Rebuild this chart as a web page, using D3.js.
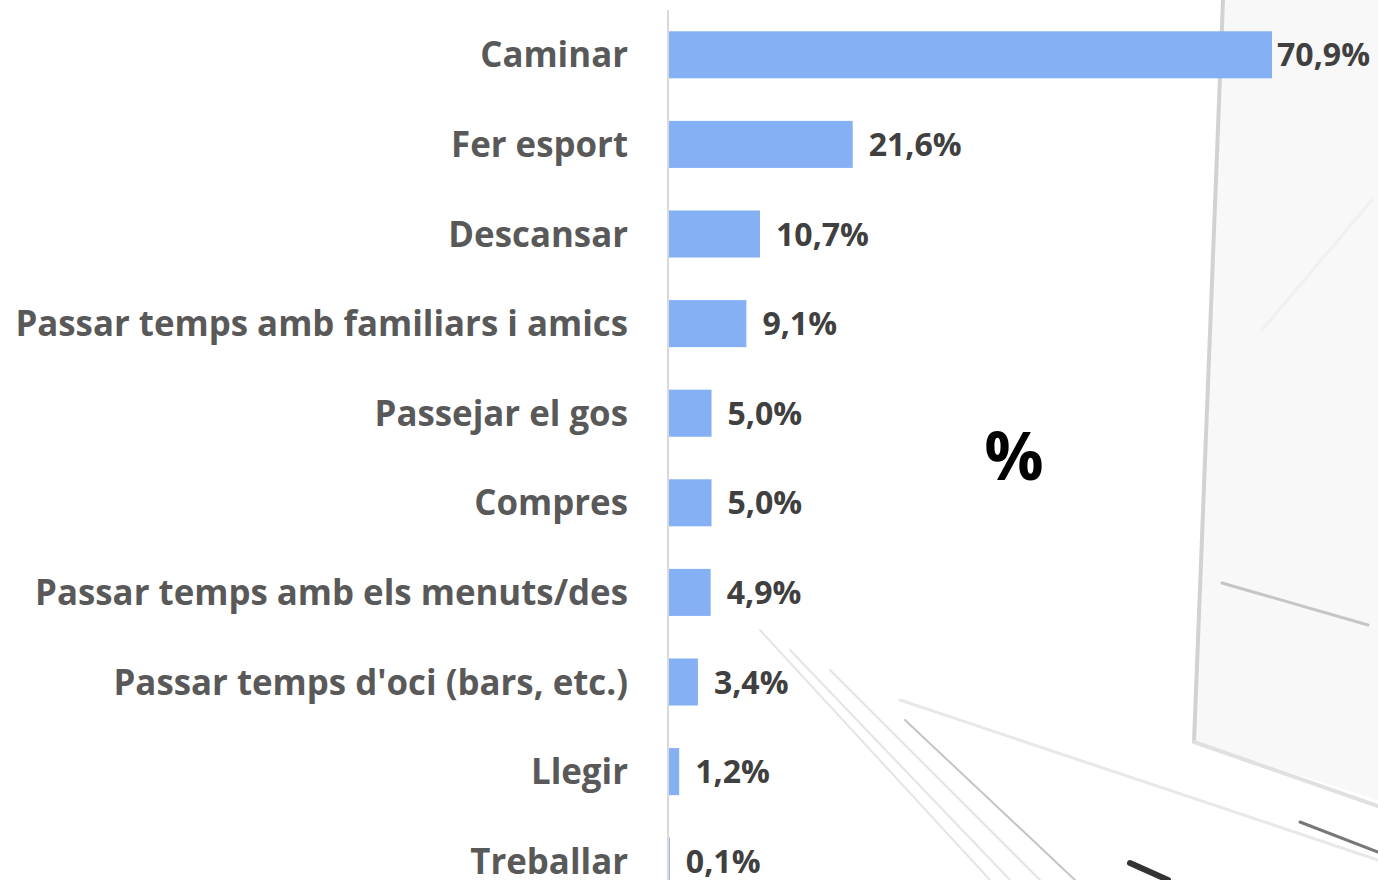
<!DOCTYPE html>
<html>
<head>
<meta charset="utf-8">
<script src="https://d3js.org/d3.v7.min.js"></script>
<style>
  body { margin: 0; background: #fff; }
  svg { display: block; }
  .cat { font-family: "Open Sans", sans-serif; font-weight: 700; fill: #595959; }
  .val { font-family: "Open Sans", sans-serif; font-weight: 700; fill: #404040; }
</style>
</head>
<body>
<div id="chart"></div>
<script>
// data
var categories = ["Caminar", "Fer esport", "Descansar", "Passar temps amb familiars i amics",
  "Passejar el gos", "Compres", "Passar temps amb els menuts/des",
  "Passar temps d'oci (bars, etc.)", "Llegir", "Treballar"];
var values = [70.9, 21.6, 10.7, 9.1, 5.0, 5.0, 4.9, 3.4, 1.2, 0.1];
var unitLabel = "%";

var W = 1378, H = 880;
var axisX = 669;

var svg = d3.select("#chart").append("svg").attr("width", W).attr("height", H);

// faint photo in the background (window frame + floor lines)
var bg = svg.append("g").attr("fill", "none").attr("stroke-linecap", "round");
bg.append("path").attr("d", "M1222,0 L1194,742 L1378,800 L1378,0 Z")
  .attr("fill", "#f8f8f8").attr("stroke", "none");
bg.append("path").attr("d", "M1223,0 L1194,742").attr("stroke", "#d2d2d2").attr("stroke-width", 4);
bg.append("path").attr("d", "M1194,742 L1378,806").attr("stroke", "#e0e0e0").attr("stroke-width", 4);
bg.append("path").attr("d", "M1222,583 L1368,625").attr("stroke", "#c6c6c6").attr("stroke-width", 3);
bg.append("path").attr("d", "M1372,200 L1262,330").attr("stroke", "#f0f0f0").attr("stroke-width", 3);
bg.append("path").attr("d", "M900,700 L1378,860").attr("stroke", "#e8e8e8").attr("stroke-width", 3);
[[760, 630, 990, 880], [790, 650, 1010, 880], [830, 670, 1040, 880], [905, 720, 1075, 880]].forEach(function (l, i) {
  bg.append("line").attr("x1", l[0]).attr("y1", l[1]).attr("x2", l[2]).attr("y2", l[3])
    .attr("stroke", i === 3 ? "#c4c4c4" : "#e4e4e4").attr("stroke-width", 2);
});
bg.append("path").attr("d", "M1130,863 L1168,880").attr("stroke", "#333").attr("stroke-width", 6);
bg.append("path").attr("d", "M1300,822 L1378,852").attr("stroke", "#777").attr("stroke-width", 3);

var x = d3.scaleLinear().domain([0, 70.9]).range([axisX, 1272]);
var y = d3.scaleBand().domain(categories).range([10, 906])
  .paddingInner(0.475).paddingOuter(0.2375);

// category axis line
svg.append("line").attr("x1", axisX - 1).attr("x2", axisX - 1).attr("y1", 10).attr("y2", H)
  .attr("stroke", "#d9d9d9").attr("stroke-width", 2);

svg.selectAll("rect.bar").data(values).enter().append("rect")
  .attr("class", "bar")
  .attr("x", x(0))
  .attr("y", function (d, i) { return y(categories[i]); })
  .attr("width", function (d) { return x(d) - x(0); })
  .attr("height", y.bandwidth())
  .attr("fill", "#86b0f4");

// category labels, sized so the longest fits the original width
var cat = svg.selectAll("text.cat").data(categories).enter().append("text")
  .attr("class", "cat")
  .attr("x", 628)
  .attr("y", function (d) { return y(d) + y.bandwidth() / 2; })
  .attr("dy", "0.36em")
  .attr("text-anchor", "end")
  .style("font-size", "34px")
  .text(function (d) { return d; });
var longest = d3.max(cat.nodes(), function (n) { return n.getComputedTextLength(); });
cat.style("font-size", (34 * 613 / longest) + "px");

var fmt = function (v) { return v.toFixed(1).replace(".", ",") + "%"; };
var val = svg.selectAll("text.val").data(values).enter().append("text")
  .attr("class", "val")
  .attr("y", function (d, i) { return y(categories[i]) + y.bandwidth() / 2; })
  .attr("dy", "0.36em")
  .style("font-size", "30px")
  .text(fmt);
var w1 = val.nodes()[1].getComputedTextLength();
val.style("font-size", (30 * 93 / w1) + "px");
// 16px after the bar end, pulled back in when it would leave the plot
val.attr("x", function (d) {
  var w = this.getComputedTextLength();
  return Math.min(x(d) + 16, W - 8 - w);
});

svg.append("text")
  .attr("x", 1014).attr("y", 480)
  .attr("text-anchor", "middle")
  .style("font-family", "'Open Sans', sans-serif")
  .style("font-weight", 700)
  .style("font-size", "66px")
  .attr("fill", "#000")
  .text(unitLabel);
</script>
</body>
</html>
